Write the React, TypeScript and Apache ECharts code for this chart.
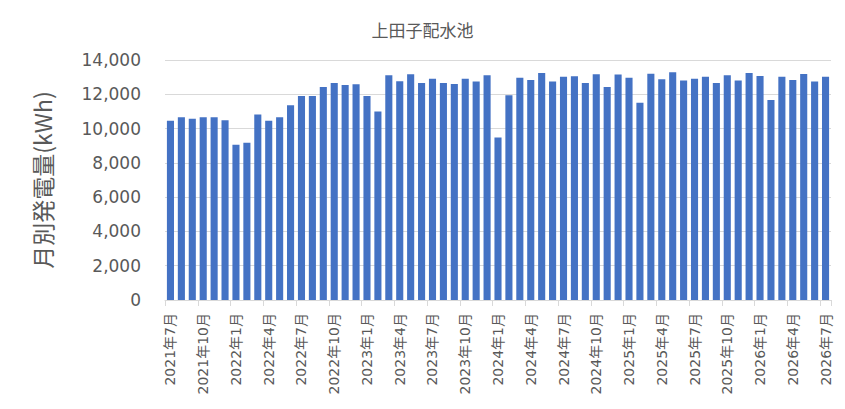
import React, { useEffect, useRef } from "react";
import * as echarts from "echarts";

// 2021年7月 から 2026年7月 まで (61か月)
const startYear = 2021;
const startMonth = 7;
const monthCount = 61;
const categories: string[] = [];
for (let i = 0; i < monthCount; i++) {
  const m = startMonth - 1 + i;
  categories.push(`${startYear + Math.floor(m / 12)}年${(m % 12) + 1}月`);
}

// 月別発電量 (kWh)
const values2021 = [10450, 10660, 10580, 10660, 10660, 10490];
const values2022 = [9050, 9180, 10820, 10450, 10660, 11360, 11900, 11900, 12430, 12660, 12540, 12580];
const values2023 = [11900, 11000, 13110, 12760, 13170, 12660, 12910, 12660, 12600, 12910, 12740, 13110];
const values2024 = [9480, 11940, 12970, 12840, 13240, 12740, 13030, 13050, 12660, 13170, 12430, 13150];
const values2025 = [12970, 11500, 13200, 12870, 13280, 12800, 12910, 13030, 12660, 13110, 12800, 13240];
const values2026 = [13070, 11670, 13030, 12840, 13180, 12740, 13030];
const generation = [...values2021, ...values2022, ...values2023, ...values2024, ...values2025, ...values2026];

const yTicks = { min: 0, max: 14000, interval: 2000 };

const cjkFont = '"Noto Sans CJK JP", sans-serif';
const labelFont = '"DejaVu Sans", "Noto Sans CJK JP", sans-serif';

const App: React.FC = () => {
  const chartRef = useRef<HTMLDivElement>(null);

  useEffect(() => {
    const chart = echarts.init(chartRef.current, null, { renderer: "svg" });
    chart.setOption({
      animation: false,
      textStyle: { fontFamily: cjkFont },
      title: {
        text: "上田子配水池",
        left: "center",
        top: 8,
        textStyle: { fontSize: 17, fontWeight: "normal", color: "#595959", fontFamily: cjkFont },
      },
      grid: { left: 157, right: 6, top: 52, bottom: 101 },
      xAxis: {
        type: "category",
        data: categories,
        axisLine: { lineStyle: { color: "#d9d9d9" } },
        axisTick: { show: true, interval: 2, length: 6, lineStyle: { color: "#d9d9d9" } },
        axisLabel: {
          interval: 2,
          rotate: 90,
          fontSize: 14,
          color: "#595959",
          margin: 13,
          fontFamily: labelFont,
        },
      },
      yAxis: {
        type: "value",
        min: yTicks.min,
        max: yTicks.max,
        interval: yTicks.interval,
        name: "月別発電量(kWh)",
        nameLocation: "middle",
        nameGap: 112,
        nameRotate: 90,
        nameTextStyle: { fontSize: 23, color: "#595959", fontFamily: cjkFont },
        axisLabel: {
          fontSize: 17,
          color: "#595959",
          margin: 24,
          fontFamily: labelFont,
          formatter: (v: number) => v.toLocaleString("en-US"),
        },
        splitLine: { lineStyle: { color: "#d9d9d9" } },
      },
      series: [
        {
          type: "bar",
          data: generation,
          barCategoryGap: "35%",
          itemStyle: { color: "#4472C4" },
        },
      ],
    });
    return () => {
      chart.dispose();
    };
  }, []);

  return <div ref={chartRef} style={{ width: 829, height: 393 }} />;
};

export default App;
